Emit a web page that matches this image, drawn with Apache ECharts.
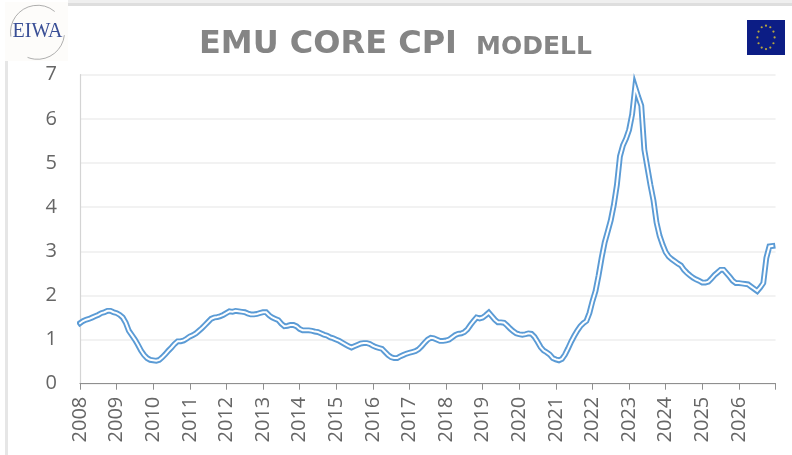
<!DOCTYPE html>
<html>
<head>
<meta charset="utf-8">
<style>html,body{margin:0;padding:0;background:#fff}#c{width:792px;height:455px}</style>
<script src="https://cdn.jsdelivr.net/npm/echarts@6/dist/echarts.min.js"></script>
</head>
<body>
<div id="c"></div>
<script>
const titleMain = 'EMU CORE CPI';
const titleSub = 'MODELL';
const logoText = 'EIWA';
const yTicks = [0,1,2,3,4,5,6,7];
const startYear = 2008;
const endYear = 2026;

const y2008 = [1.37,1.42,1.45,1.47,1.50,1.53,1.56,1.60,1.62,1.65,1.65,1.62];
const y2009 = [1.60,1.56,1.50,1.38,1.20,1.10,1.00,0.88,0.75,0.65,0.58,0.54];
const y2010 = [0.53,0.52,0.54,0.60,0.67,0.75,0.82,0.90,0.96,0.96,0.98,1.02];
const y2011 = [1.07,1.10,1.14,1.20,1.26,1.33,1.40,1.47,1.50,1.51,1.53,1.56];
const y2012 = [1.60,1.64,1.63,1.65,1.64,1.63,1.62,1.59,1.57,1.57,1.58,1.60];
const y2013 = [1.62,1.62,1.55,1.50,1.47,1.44,1.36,1.30,1.31,1.33,1.33,1.30];
const y2014 = [1.24,1.21,1.21,1.21,1.20,1.18,1.17,1.14,1.11,1.09,1.05,1.03];
const y2015 = [1.00,0.97,0.93,0.89,0.85,0.82,0.85,0.88,0.91,0.92,0.92,0.90];
const y2016 = [0.86,0.83,0.81,0.79,0.72,0.65,0.60,0.58,0.58,0.62,0.65,0.68];
const y2017 = [0.70,0.72,0.74,0.78,0.85,0.93,1.00,1.04,1.03,1.00,0.97,0.97];
const y2018 = [0.98,1.00,1.05,1.10,1.13,1.14,1.17,1.23,1.33,1.42,1.50,1.48];
const y2019 = [1.50,1.55,1.61,1.53,1.45,1.39,1.39,1.38,1.32,1.25,1.19,1.14];
const y2020 = [1.12,1.11,1.12,1.14,1.13,1.06,0.95,0.83,0.75,0.71,0.66,0.58];
const y2021 = [0.55,0.53,0.56,0.66,0.80,0.95,1.08,1.20,1.30,1.37,1.42,1.60];
const y2022 = [1.87,2.10,2.45,2.85,3.20,3.45,3.70,4.05,4.50,5.15,5.40,5.55];
const y2023 = [5.75,6.10,6.72,6.50,6.30,5.30,4.90,4.50,4.15,3.65,3.35,3.15];
const y2024 = [2.98,2.88,2.82,2.77,2.72,2.68,2.58,2.51,2.45,2.40,2.36,2.33];
const y2025 = [2.29,2.29,2.31,2.38,2.46,2.52,2.58,2.58,2.50,2.42,2.33,2.28];
const y2026 = [2.28,2.27,2.26,2.25,2.20,2.15,2.10,2.18,2.28,2.85,3.11,3.12];

const values = [].concat(y2008,y2009,y2010,y2011,y2012,y2013,y2014,y2015,y2016,y2017,y2018,y2019,y2020,y2021,y2022,y2023,y2024,y2025,y2026,[null]);
const months = values.map((_, i) => (startYear + Math.floor(i / 12)) + '-' + String(i % 12 + 1).padStart(2, '0'));

const labelColor = '#666666';
const font = '"Open Sans"';

// decorative page furniture: window edges, logo, flag
const stars = [];
for (let i = 0; i < 12; i++) {
  const a = i * Math.PI / 6;
  stars.push({type:'circle', shape:{cx:766 + 8.6 * Math.sin(a), cy:37.4 - 11.7 * Math.cos(a), r:1.1}, style:{fill:'#b9a83e'}, silent:true});
}
const graphic = [
  {type:'rect', shape:{x:68,y:0,width:724,height:3}, style:{fill:'#efefef'}, silent:true},
  {type:'rect', shape:{x:68,y:3,width:724,height:3}, style:{fill:'#dedede'}, silent:true},
  {type:'rect', shape:{x:5,y:60,width:3,height:395}, style:{fill:'#e6e6e6'}, silent:true},
  {type:'rect', shape:{x:5,y:2,width:63,height:59}, style:{fill:'#fdfcfa'}, silent:true},
  {type:'arc', shape:{cx:37.5,cy:32.3,r:27,startAngle:Math.PI*0.95,endAngle:Math.PI*1.72}, style:{stroke:'#8c8c8c',fill:null,lineWidth:0.7}, silent:true},
  {type:'arc', shape:{cx:37.5,cy:32.3,r:27,startAngle:Math.PI*0.05-0.05,endAngle:Math.PI*0.62}, style:{stroke:'#8c8c8c',fill:null,lineWidth:0.7}, silent:true},
  {type:'text', x:37.5, y:32, style:{text:logoText, font:'20px "Liberation Serif"', fill:'#3a4f96', align:'center', verticalAlign:'middle'}, silent:true},
  {type:'rect', shape:{x:747,y:20,width:38,height:35}, style:{fill:'#0c1d85'}, silent:true}
].concat(stars);

const chart = echarts.init(document.getElementById('c'), null, {renderer:'canvas'});
chart.setOption({
  animation:false,
  backgroundColor:'#ffffff',
  title:[
    {text:titleMain, left:199, top:29, padding:0, textStyle:{fontFamily:'"DejaVu Sans"', fontWeight:'bold', fontSize:32, color:'#858585'}},
    {text:titleSub, left:476, top:35, padding:0, textStyle:{fontFamily:'"DejaVu Sans"', fontWeight:'bold', fontSize:25, color:'#858585'}}
  ],
  graphic:graphic,
  grid:{left:80, right:16.5, top:74.7, bottom:71.3, containLabel:false},
  xAxis:{
    type:'category', data:months, boundaryGap:false,
    axisLine:{show:true, lineStyle:{color:'#8f8f8f', width:1.2}},
    axisTick:{show:true, alignWithLabel:true, length:6, interval:(i)=>i%12===0, lineStyle:{color:'#8f8f8f', width:1}},
    axisLabel:{
      rotate:90, margin:13, color:labelColor, fontFamily:font, fontSize:20, hideOverlap:false,
      interval:(i)=>i%12===0,
      formatter:(v)=>(Number(v.slice(0,4))<=endYear ? v.slice(0,4) : '')
    },
    splitLine:{show:false}
  },
  yAxis:{
    type:'value', min:0, max:7, interval:1,
    axisLine:{show:true, lineStyle:{color:'#d4d4d4', width:1.2}},
    axisTick:{show:false},
    axisLabel:{margin:23, color:labelColor, fontFamily:font, fontSize:20, formatter:(v)=>yTicks.includes(v)?String(v):''},
    splitLine:{show:true, lineStyle:{color:'#f2f2f2', width:2}}
  },
  series:[
    {name:'EMU Core CPI', type:'line', data:values, showSymbol:false, smooth:false, connectNulls:false, z:3,
     lineStyle:{color:'#5b9bd5', width:5.8, join:'miter', miterLimit:20, cap:'square'}},
    {name:'EMU Core CPI (inner)', type:'line', data:values, showSymbol:false, smooth:false, connectNulls:false, z:4,
     lineStyle:{color:'#ffffff', width:2, join:'miter', miterLimit:20, cap:'square'}}
  ]
});
</script>
</body>
</html>
